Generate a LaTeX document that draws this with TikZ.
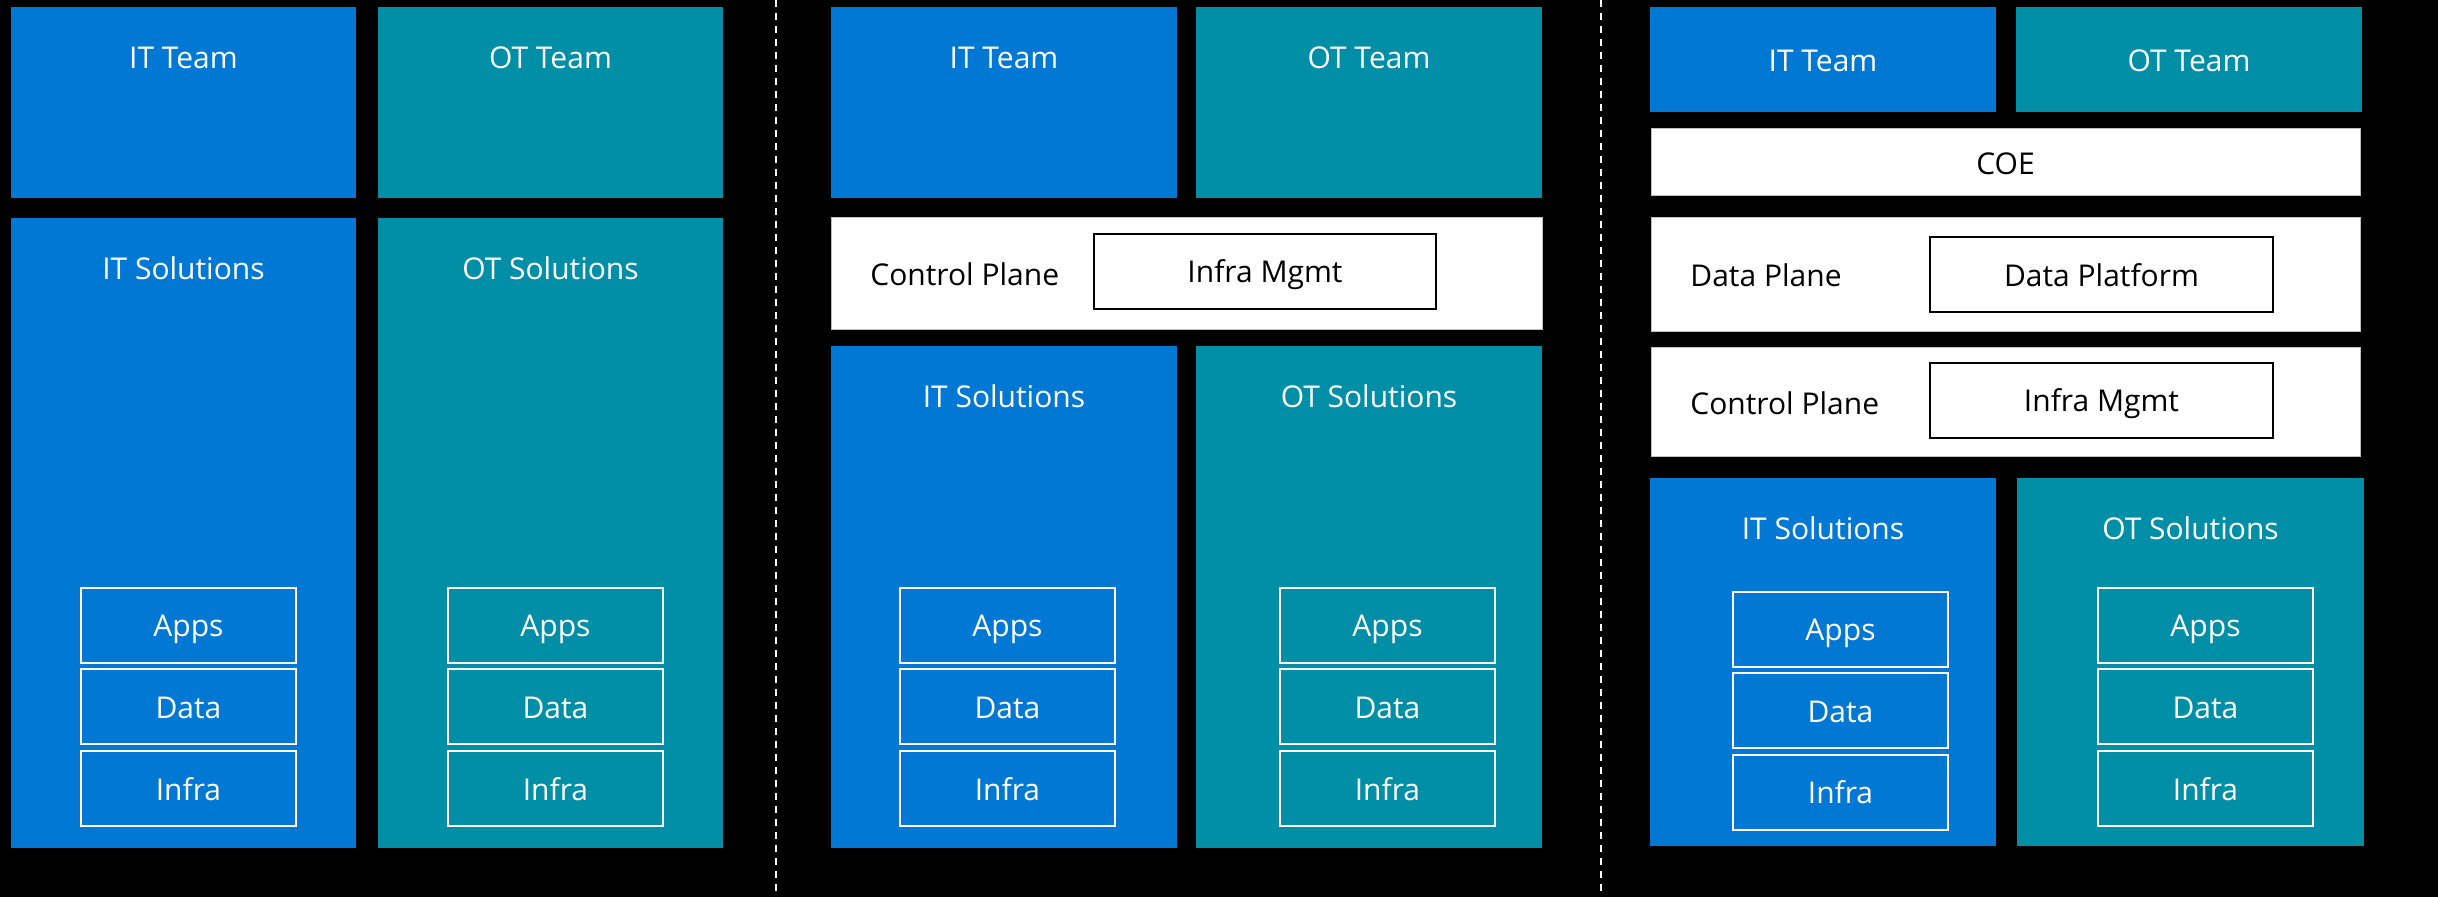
\documentclass[tikz,border=0pt]{standalone}
\usepackage{fontspec}
\setmainfont{Open Sans}
\usepackage{tikz}

\definecolor{itblue}{RGB}{0,120,212}
\definecolor{otteal}{RGB}{1,143,167}

\begin{document}
\begin{tikzpicture}[x=0.5pt,y=-0.5pt,
    lbl/.style={font=\fontsize{15}{18}\selectfont, text=white, anchor=base, inner sep=0pt},
    dlbl/.style={lbl, text=black},
    layer/.style={draw=white, line width=1pt},
    mgmt/.style={draw=black, line width=1pt, fill=white},
    plane/.style={fill=white, draw=gray!50, line width=0.5pt},
    divider/.style={white, line width=1pt, dash pattern=on 3.5pt off 3pt}]
  \useasboundingbox (0,0) rectangle (2438,897);
  \fill[black] (0,0) rectangle (2438,897);
  \draw[divider] (776,0) -- (776,897);
  \draw[divider] (1601,0) -- (1601,897);

  % separate teams
  \fill[itblue] (11,7) rectangle (356,198);
  \node[lbl] (itteam1) at (183.5,69) {IT Team};
  \fill[otteal] (378,7) rectangle (723,198);
  \node[lbl] (otteam1) at (550.5,69) {OT Team};
  \fill[itblue] (11,218) rectangle (356,848);
  \node[lbl] (itsol1) at (183.5,280) {IT Solutions};
  \fill[otteal] (378,218) rectangle (723,848);
  \node[lbl] (otsol1) at (550.5,280) {OT Solutions};

  % shared control plane
  \fill[itblue] (831,7) rectangle (1177,198);
  \node[lbl] (itteam2) at (1004,69) {IT Team};
  \fill[otteal] (1196,7) rectangle (1542,198);
  \node[lbl] (otteam2) at (1369,69) {OT Team};
  \filldraw[plane] (831,218) rectangle (1542,330);
  \node[dlbl, anchor=base west] (ctrl2) at (870,286) {Control Plane};
  \draw[mgmt] (1094,234) rectangle (1436,309);
  \node[dlbl] (infmgmt2) at (1265,283) {Infra Mgmt};
  \fill[itblue] (831,346) rectangle (1177,848);
  \node[lbl] (itsol2) at (1004,408) {IT Solutions};
  \fill[otteal] (1196,346) rectangle (1542,848);
  \node[lbl] (otsol2) at (1369,408) {OT Solutions};

  % coe, data plane and control plane
  \fill[itblue] (1650,7) rectangle (1996,112);
  \node[lbl] (itteam3) at (1823,72) {IT Team};
  \fill[otteal] (2016,7) rectangle (2362,112);
  \node[lbl] (otteam3) at (2189,72) {OT Team};
  \filldraw[plane] (1651,129) rectangle (2360,196);
  \node[dlbl] (coe3) at (2005.5,175) {COE};
  \filldraw[plane] (1651,218) rectangle (2360,332);
  \node[dlbl, anchor=base west] (dplane3) at (1690,287) {Data Plane};
  \draw[mgmt] (1930,237) rectangle (2273,312);
  \node[dlbl] (dplat3) at (2101.5,287) {Data Platform};
  \filldraw[plane] (1651,348) rectangle (2360,457);
  \node[dlbl, anchor=base west] (ctrl3) at (1690,415) {Control Plane};
  \draw[mgmt] (1930,363) rectangle (2273,438);
  \node[dlbl] (infmgmt3) at (2101.5,412) {Infra Mgmt};
  \fill[itblue] (1650,478) rectangle (1996,846);
  \node[lbl] (itsol3) at (1823,540) {IT Solutions};
  \fill[otteal] (2017,478) rectangle (2364,846);
  \node[lbl] (otsol3) at (2190.5,540) {OT Solutions};

  % apps / data / infra stacks
  \foreach \c/\x/\y in {a/81/588, b/448/588, c/900/588, d/1280/588, e/1733/592, f/2098/588}{
    \draw[layer] (\x,\y) rectangle ++(215,75);
    \node[lbl] (apps\c) at (\x+107.5,\y+49) {Apps};
    \draw[layer] (\x,\y+81) rectangle ++(215,75);
    \node[lbl] (data\c) at (\x+107.5,\y+131) {Data};
    \draw[layer] (\x,\y+163) rectangle ++(215,75);
    \node[lbl] (infra\c) at (\x+107.5,\y+212) {Infra};
  }
\end{tikzpicture}
\end{document}
